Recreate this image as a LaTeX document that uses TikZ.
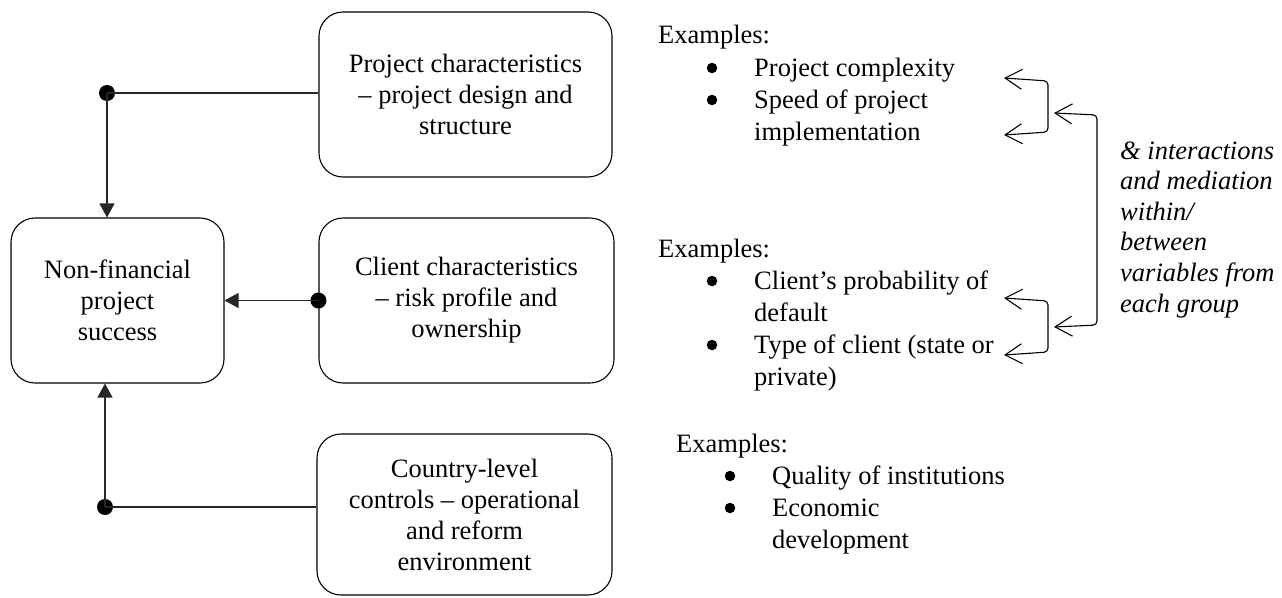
\documentclass[tikz,border=0pt]{standalone}
\usepackage{fontspec}
\setmainfont{Liberation Serif}
\usetikzlibrary{arrows.meta}
\begin{document}
\begin{tikzpicture}[x=1pt,y=-1pt,
  every node/.style={font=\fontsize{26.5}{31}\selectfont, inner sep=0pt},
  box/.style={draw, rounded corners=24pt, line width=1.1pt, align=center},
  conn/.style={line width=1.3pt, draw=black!85},
  tip/.style={-{Triangle[length=14pt,width=15pt]}},
  dotmark/.style={circle, fill, minimum size=16pt, inner sep=0pt},
  bullet/.style={circle, fill, minimum size=10.5pt, inner sep=0pt},
  barb/.style={line width=1.1pt, rounded corners=4pt,
    {Straight Barb[length=17pt,width=20pt]}-{Straight Barb[length=17pt,width=20pt]}},
  line/.style={anchor=base west},
  it/.style={anchor=base west, font=\fontsize{26.5}{31}\selectfont\itshape}
]
\useasboundingbox (0,0) rectangle (1282,597);

% boxes
\node[box, minimum width=293pt, minimum height=165pt] (pc) at (465.5,94.5)
  {Project characteristics\\– project design and\\structure};
\node[box, minimum width=213pt, minimum height=165pt] (nf) at (117.5,300.5)
  {Non-financial\\project\\success};
\node[box, minimum width=295pt, minimum height=165pt] (cc) at (466.5,300.5)
  {Client characteristics\\– risk profile and\\ownership};
\node[box, minimum width=295pt, minimum height=161pt] (cl) at (464.5,514.5)
  {Country-level\\controls – operational\\and reform\\environment};

% connectors into the outcome box
\node[dotmark] (d1) at (107,93) {};
\draw[conn] (d1.center) -- (d1.center -| pc.west);
\draw[conn,tip] (d1.center) -- (d1.center |- nf.north);

\node[dotmark] (d2) at (cc.west) {};
\draw[conn,tip] (d2.center) -- (nf.east);

\node[dotmark] (d3) at (105,507) {};
\draw[conn] (d3.center) -- (d3.center -| cl.west);
\draw[conn,tip] (d3.center) -- (d3.center |- nf.south);

% example lists
\node[line] (ex1) at (658,43) {Examples:};
\node[bullet] (b1a) at (712,68) {};
\node[line] (i1a) at (754,76) {Project complexity};
\node[bullet] (b1b) at (712,100) {};
\node[line] (i1b) at (754,108) {Speed of project};
\node[line] (i1c) at (754,140) {implementation};

\node[line] (ex2) at (658,257) {Examples:};
\node[bullet] (b2a) at (712,281) {};
\node[line] (i2a) at (754,289) {Client’s probability of};
\node[line] (i2b) at (754,321) {default};
\node[bullet] (b2b) at (712,345) {};
\node[line] (i2c) at (754,353) {Type of client (state or};
\node[line] (i2d) at (754,385) {private)};

\node[line] (ex3) at (676,452) {Examples:};
\node[bullet] (b3a) at (730,476) {};
\node[line] (i3a) at (772,484) {Quality of institutions};
\node[bullet] (b3b) at (730,508) {};
\node[line] (i3b) at (772,516) {Economic};
\node[line] (i3c) at (772,548) {development};

% note on interactions
\node[it] (n1) at (1120,159) {\& interactions};
\node[it] (n2) at (1120,189.6) {and mediation};
\node[it] (n3) at (1120,220.2) {within/};
\node[it] (n4) at (1120,250.8) {between};
\node[it] (n5) at (1120,281.4) {variables from};
\node[it] (n6) at (1120,312) {each group};

% brackets linking the variables
\coordinate (t1) at (1004,78);
\coordinate (t2) at (1004,135);
\coordinate (s1) at (1048,81);
\coordinate (s2) at (1048,132);
\draw[barb] (t1) -- (s1) -- (s2) -- (t2);

\coordinate (u1) at (1004,298);
\coordinate (u2) at (1004,355);
\coordinate (r1) at (1048,301);
\coordinate (r2) at (1048,352);
\draw[barb] (u1) -- (r1) -- (r2) -- (u2);

\coordinate (m1) at (1054,113);
\coordinate (m2) at (1054,327);
\coordinate (k1) at (1097,115);
\coordinate (k2) at (1097,325);
\draw[barb] (m1) -- (k1) -- (k2) -- (m2);
\end{tikzpicture}
\end{document}
